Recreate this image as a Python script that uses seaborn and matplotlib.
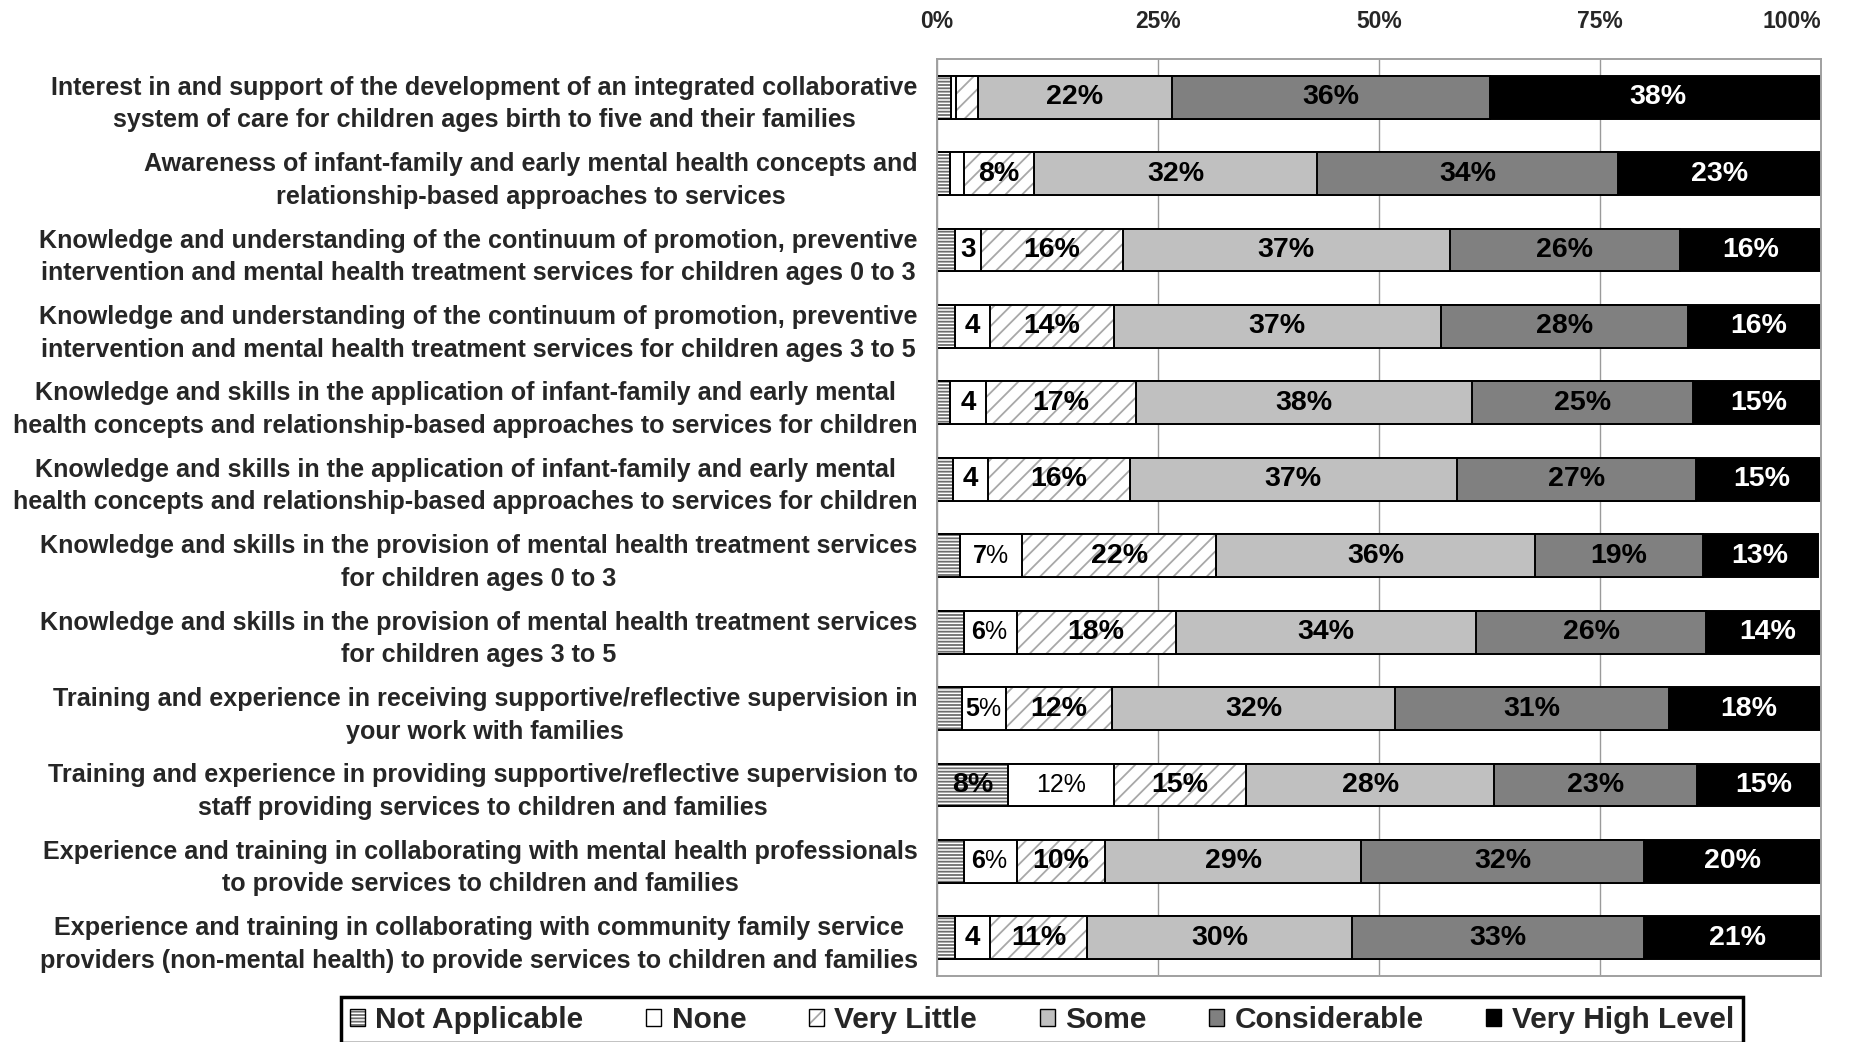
import numpy as np
import pandas as pd
import matplotlib
matplotlib.use("Agg")
import matplotlib.pyplot as plt
from matplotlib.patches import Patch
from matplotlib.legend_handler import HandlerTuple
import seaborn as sns

# ---- data -------------------------------------------------------------
categories = [
    "Interest in and support of the development of an integrated collaborative\nsystem of care for children ages birth to five and their families",
    "Awareness of infant-family and early mental health concepts and\nrelationship-based approaches to services",
    "Knowledge and understanding of the continuum of promotion, preventive\nintervention and mental health treatment services for children ages 0 to 3",
    "Knowledge and understanding of the continuum of promotion, preventive\nintervention and mental health treatment services for children ages 3 to 5",
    "Knowledge and skills in the application of infant-family and early mental\nhealth concepts and relationship-based approaches to services for children",
    "Knowledge and skills in the application of infant-family and early mental\nhealth concepts and relationship-based approaches to services for children",
    "Knowledge and skills in the provision of mental health treatment services\nfor children ages 0 to 3",
    "Knowledge and skills in the provision of mental health treatment services\nfor children ages 3 to 5",
    "Training and experience in receiving supportive/reflective supervision in\nyour work with families",
    "Training and experience in providing supportive/reflective supervision to\nstaff providing services to children and families",
    "Experience and training in collaborating with mental health professionals\nto provide services to children and families",
    "Experience and training in collaborating with community family service\nproviders (non-mental health) to provide services to children and families",
]

series_names = ["Not Applicable", "None", "Very Little", "Some", "Considerable", "Very High Level"]

not_applicable = [1.6, 1.5, 2.0, 2.0, 1.5, 1.8, 2.6, 3.0, 2.8, 8, 3.0, 2.0]
none_level     = [0.6, 1.5, 3,   4,   4,   4,   7,   6,   5,   12, 6,   4]
very_little    = [2.4, 8,   16,  14,  17,  16,  22,  18,  12,  15, 10,  11]
some           = [22,  32,  37,  37,  38,  37,  36,  34,  32,  28, 29,  30]
considerable   = [36,  34,  26,  28,  25,  27,  19,  26,  31,  23, 32,  33]
very_high      = [38,  23,  16,  16,  15,  15,  13,  14,  18,  15, 20,  21]

# which segments carry a value label
na_shown   = [False] * 9 + [True] + [False] * 2
none_shown = [False, False] + [True] * 10
vl_shown   = [False] + [True] * 11

tick_values = [0, 25, 50, 75, 100]

# ---- styling ----------------------------------------------------------
sns.set_style("white")
plt.rcParams["font.family"] = ["Liberation Sans", "DejaVu Sans"]
plt.rcParams["mathtext.fontset"] = "custom"
plt.rcParams["mathtext.rm"] = "Liberation Sans"
plt.rcParams["mathtext.bf"] = "Liberation Sans:bold"
plt.rcParams["hatch.linewidth"] = 1.3

face = {
    "Not Applicable": "white",
    "None": "white",
    "Very Little": "white",
    "Some": "#C0C0C0",
    "Considerable": "#808080",
    "Very High Level": "black",
}
hatch = {"Not Applicable": "-----", "Very Little": "//"}
hatch_col = {"Not Applicable": "#6e6e6e", "Very Little": "#a8a8a8"}

values = [not_applicable, none_level, very_little, some, considerable, very_high]
ids = [str(i) for i in range(len(categories))]
df = pd.DataFrame({"row": ids})
for name, vals in zip(series_names, values):
    df[name] = vals
cum = df[series_names].cumsum(axis=1)
cum["row"] = ids

fig = plt.figure(figsize=(18.71, 10.42), dpi=100)
ax = fig.add_axes([0.5008, 0.0633, 0.4725, 0.8801])

BAR_W = 0.56
EDGE_LW = 1.4

# stacked bars: draw cumulative totals from the widest down so each
# segment's left part gets covered by the previous category
for name in reversed(series_names):
    sns.barplot(data=cum, x=name, y="row", order=ids, orient="h",
                color=face[name], saturation=1, width=BAR_W, errorbar=None,
                edgecolor="black", linewidth=EDGE_LW, ax=ax)
    if name in hatch:
        sns.barplot(data=cum, x=name, y="row", order=ids, orient="h",
                    color="white", saturation=1, width=BAR_W, errorbar=None,
                    edgecolor=hatch_col[name], linewidth=0, hatch=hatch[name], ax=ax)
        sns.barplot(data=cum, x=name, y="row", order=ids, orient="h",
                    color="black", fill=False, saturation=1, width=BAR_W,
                    errorbar=None, linewidth=EDGE_LW, ax=ax)

# value labels
shown = {
    "Not Applicable": na_shown,
    "None": none_shown,
    "Very Little": vl_shown,
    "Some": [True] * 12,
    "Considerable": [True] * 12,
    "Very High Level": [True] * 12,
}
for i in range(len(categories)):
    left = 0.0
    for name in series_names:
        v = df.loc[i, name]
        if shown[name][i]:
            xc = left + v / 2
            col = "white" if name == "Very High Level" else "black"
            if name == "None" and v <= 4:
                txt, kw = f"{v:g}", dict(fontweight="bold", fontsize=20)
            elif name == "None" and v < 10:
                txt, kw = rf"$\mathbf{{{v:g}}}$%", dict(fontweight="normal", fontsize=18)
            elif name == "None":
                txt, kw = f"{v:g}%", dict(fontweight="normal", fontsize=18)
            else:
                txt, kw = f"{v:g}%", dict(fontweight="bold", fontsize=20.5)
            ax.text(xc, i, txt, ha="center", va="center", color=col, **kw)
        left += v

# axes
ax.set_xlim(0, 100)
ax.set_ylim(len(categories) - 0.5, -0.5)
ax.set_xlabel("")
ax.set_ylabel("")
ax.xaxis.tick_top()
ax.set_xticks(tick_values)
ax.set_xticklabels([f"{t}%" for t in tick_values], fontweight="bold", fontsize=16.5)
ax.get_xticklabels()[-1].set_horizontalalignment("right")
ax.tick_params(axis="x", length=0, pad=19)
ax.set_yticks(range(len(categories)))
ax.set_yticklabels(categories, fontweight="bold", fontsize=18.1)
for lab in ax.get_yticklabels():
    lab.set_multialignment("center")
    lab.set_linespacing(1.45)
ax.tick_params(axis="y", length=0, pad=14)
ax.set_axisbelow(True)
ax.grid(axis="x", color="#9a9a9a", linewidth=1.0)
ax.grid(axis="y", visible=False)
for s in ax.spines.values():
    s.set_visible(True)
    s.set_color("#a0a0a0")
    s.set_linewidth(1.4)

# legend
handles = []
for name in series_names:
    if name in hatch:
        h = (Patch(facecolor="white", edgecolor=hatch_col[name], hatch=hatch[name], linewidth=0),
             Patch(facecolor="none", edgecolor="black", linewidth=1.0))
    else:
        h = Patch(facecolor=face[name], edgecolor="black", linewidth=1.0)
    handles.append(h)
leg = fig.legend(handles, series_names, loc="upper center",
                 bbox_to_anchor=(1042 / 1871, 1 - 997 / 1042), ncol=6,
                 frameon=True, fancybox=False, edgecolor="black", framealpha=1,
                 prop={"weight": "bold", "size": 21.5},
                 handlelength=0.5, handleheight=0.5, handletextpad=0.35,
                 columnspacing=2.1, borderpad=0.3, borderaxespad=0,
                 handler_map={tuple: HandlerTuple(ndivide=1, pad=0)})
leg.get_frame().set_linewidth(2.5)

fig.savefig("out.png", dpi=100, facecolor="white")
